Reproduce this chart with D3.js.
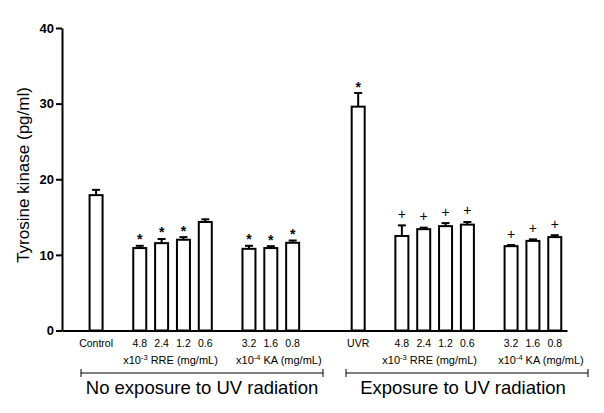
<!DOCTYPE html>
<html>
<head>
<meta charset="utf-8">
<script src="https://cdn.jsdelivr.net/npm/d3@7.9.0/dist/d3.min.js"></script>
<style>
  body { margin: 0; background: #fff; }
  svg { display: block; font-family: Arial, 'Liberation Sans', sans-serif; }
</style>
</head>
<body>
<svg width="604" height="413"></svg>
<script>
// bar labels under the axis, in order
const labels = ['Control', '4.8', '2.4', '1.2', '0.6', '3.2', '1.6', '0.8',
  'UVR', '4.8', '2.4', '1.2', '0.6', '3.2', '1.6', '0.8'];
// which sub-group each bar sits in
const subgroups = ['ctl', 'rre', 'rre', 'rre', 'rre', 'ka', 'ka', 'ka',
  'uvr', 'rre2', 'rre2', 'rre2', 'rre2', 'ka2', 'ka2', 'ka2'];
// exposure section of each bar
const sections = [0, 0, 0, 0, 0, 0, 0, 0, 1, 1, 1, 1, 1, 1, 1, 1];
const means = [17.9, 10.9, 11.55, 12.0, 14.35, 10.8, 10.9, 11.6,
  29.6, 12.5, 13.4, 13.8, 14.0, 11.15, 11.85, 12.35];
const sems = [0.7, 0.3, 0.55, 0.35, 0.35, 0.4, 0.25, 0.3,
  1.8, 1.4, 0.2, 0.4, 0.35, 0.15, 0.2, 0.25];
const marks = ['', '*', '*', '*', '', '*', '*', '*',
  '*', '+', '+', '+', '+', '+', '+', '+'];
const yTicks = [0, 10, 20, 30, 40];
const subLabels = [
  { key: 'rre', pre: 'x10', exp: '-3', post: ' RRE (mg/mL)' },
  { key: 'ka', pre: 'x10', exp: '-4', post: ' KA (mg/mL)' },
  { key: 'rre2', pre: 'x10', exp: '-3', post: ' RRE (mg/mL)' },
  { key: 'ka2', pre: 'x10', exp: '-4', post: ' KA (mg/mL)' }
];
const sectionNames = ['No exposure to UV radiation', 'Exposure to UV radiation'];

// slot index: 1 empty slot between sub-groups, 2 between sections
const slots = [];
let s = 0;
labels.forEach((d, i) => {
  if (i > 0) {
    if (sections[i] !== sections[i - 1]) s += 3;
    else if (subgroups[i] !== subgroups[i - 1]) s += 2;
    else s += 1;
  }
  slots.push(s);
});

const svg = d3.select('svg');
const x = d3.scaleLinear().domain([-1.56, 21.56]).range([62, 567]);
const y = d3.scaleLinear().domain([0, 40]).range([330.5, 28]);
const barW = 13;

// y axis
const yAxis = svg.append('g')
  .attr('transform', 'translate(62,0)')
  .call(d3.axisLeft(y).tickValues(yTicks).tickSize(6).tickPadding(2).tickSizeOuter(0));
yAxis.select('.domain').attr('stroke', '#000').attr('stroke-width', 2);
yAxis.selectAll('.tick line').attr('stroke', '#000').attr('stroke-width', 2);
yAxis.selectAll('.tick text')
  .attr('font-size', 13).attr('font-weight', 'bold').attr('fill', '#000')
  .attr('font-family', 'Arial, Liberation Sans, sans-serif');

// x axis line
const xAxis = svg.append('g')
  .attr('transform', `translate(0,${y(0)})`)
  .call(d3.axisBottom(x).tickValues([]).tickSizeOuter(0));
xAxis.select('.domain').attr('stroke', '#000').attr('stroke-width', 2);

svg.append('text')
  .attr('transform', 'translate(29,175) rotate(-90)')
  .attr('text-anchor', 'middle')
  .attr('font-size', 17)
  .text('Tyrosine kinase (pg/ml)');

// error bars (upper only)
const err = svg.append('g').attr('stroke', '#000').attr('stroke-width', 2);
means.forEach((m, i) => {
  const cx = x(slots[i]);
  err.append('line')
    .attr('x1', cx).attr('x2', cx)
    .attr('y1', y(m)).attr('y2', y(m + sems[i]));
  err.append('line')
    .attr('x1', cx - 4).attr('x2', cx + 4)
    .attr('y1', y(m + sems[i])).attr('y2', y(m + sems[i]));
});

// bars
svg.append('g').selectAll('rect')
  .data(means)
  .join('rect')
  .attr('x', (d, i) => x(slots[i]) - barW / 2)
  .attr('y', d => y(d))
  .attr('width', barW)
  .attr('height', d => y(0) - y(d))
  .attr('fill', '#fff')
  .attr('stroke', '#000')
  .attr('stroke-width', 2);

// significance marks
svg.append('g').selectAll('text')
  .data(marks)
  .join('text')
  .attr('x', (d, i) => x(slots[i]))
  .attr('y', (d, i) => y(means[i] + sems[i]) - (d === '*' ? 1.5 : 6.5))
  .attr('text-anchor', 'middle')
  .attr('font-size', 14)
  .attr('font-weight', d => d === '*' ? 'bold' : 'normal')
  .text(d => d);

// category labels
svg.append('g').selectAll('text')
  .data(labels)
  .join('text')
  .attr('x', (d, i) => x(slots[i]))
  .attr('y', 347)
  .attr('text-anchor', 'middle')
  .attr('font-size', 10.5)
  .text(d => d);

// concentration unit labels
const subShift = [-2, 8, -5, 8];
subLabels.forEach((g, k) => {
  const idx = subgroups.map((d, i) => d === g.key ? i : -1).filter(i => i >= 0);
  const cx = d3.mean(idx, i => x(slots[i])) + subShift[k];
  const t = svg.append('text')
    .attr('x', cx)
    .attr('y', 364)
    .attr('text-anchor', 'middle')
    .attr('font-size', 11);
  t.append('tspan').text(g.pre);
  t.append('tspan').attr('dy', -4).attr('font-size', 7.5).text(g.exp);
  t.append('tspan').attr('dy', 4).text(g.post);
});

// section brackets
const brackets = [[81, 323], [346, 588]];
const nameShift = [0, -4];
sectionNames.forEach((name, k) => {
  const [x0, x1] = brackets[k];
  const g = svg.append('g').attr('stroke', '#000').attr('stroke-width', 1);
  g.append('line').attr('x1', x0).attr('x2', x1).attr('y1', 373).attr('y2', 373);
  g.append('line').attr('x1', x0).attr('x2', x0).attr('y1', 369).attr('y2', 377);
  g.append('line').attr('x1', x1).attr('x2', x1).attr('y1', 369).attr('y2', 377);
  svg.append('text')
    .attr('x', (x0 + x1) / 2 + nameShift[k])
    .attr('y', 394)
    .attr('text-anchor', 'middle')
    .attr('font-size', 18.5)
    .text(name);
});
</script>
</body>
</html>
